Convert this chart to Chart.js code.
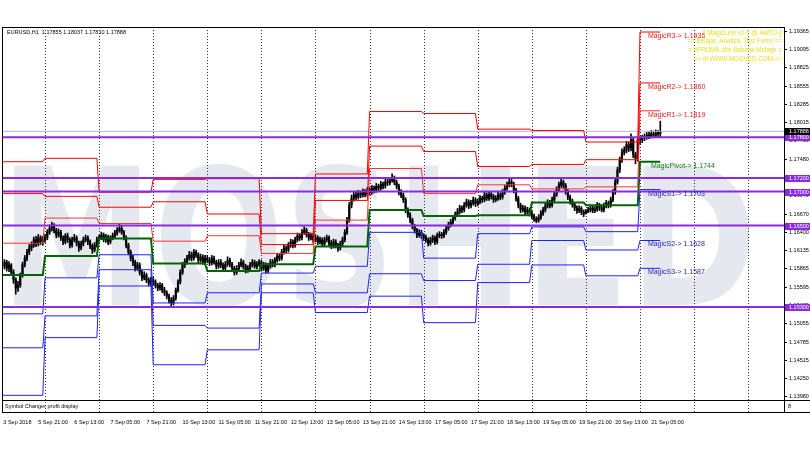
<!DOCTYPE html>
<html>
<head>
<meta charset="utf-8">
<script src="https://cdn.jsdelivr.net/npm/chart.js@4.4.0/dist/chart.umd.min.js"></script>
<style>
  html, body { margin: 0; padding: 0; background: #fff; }
</style>
</head>
<body>
<canvas id="chart" width="810" height="450"></canvas>
<script>
// EURUSD H1, bar index 0 = first visible bar
const firstOpen = 1.1590;
const closes = [
  1.1596,1.1587,1.1592,1.1581,1.1570,1.1558,1.1562,1.1577,1.1592,1.1602,1.1611,1.1617,1.1621,1.1629,1.1623,1.1632,1.1626,1.1629,
  1.1632,1.1640,1.1646,1.1649,1.1643,1.1636,1.1640,1.1632,1.1626,1.1635,1.1629,1.1621,1.1629,1.1632,1.1624,1.1617,1.1623,1.1629,1.1632,1.1626,1.1620,1.1614,1.1621,1.1629,
  1.1632,1.1636,1.1629,1.1633,1.1626,1.1632,1.1635,1.1639,1.1643,1.1646,1.1640,1.1632,1.1621,1.1611,1.1602,1.1596,1.1587,1.1592,1.1581,1.1573,1.1577,1.1570,1.1565,1.1570,
  1.1567,1.1562,1.1558,1.1562,1.1555,1.1551,1.1546,1.1540,1.1536,1.1543,1.1555,1.1567,1.1581,1.1592,1.1596,1.1602,1.1607,1.1602,1.1611,1.1607,1.1599,1.1604,1.1596,1.1602,
  1.1599,1.1595,1.1602,1.1596,1.1590,1.1596,1.1592,1.1587,1.1593,1.1599,1.1593,1.1587,1.1581,1.1587,1.1592,1.1596,1.1590,1.1584,1.1587,1.1592,1.1596,1.1590,1.1593,1.1596,
  1.1587,1.1592,1.1584,1.1590,1.1596,1.1592,1.1599,1.1605,1.1602,1.1611,1.1617,1.1614,1.1621,1.1626,1.1621,1.1629,1.1635,1.1632,1.1640,1.1643,1.1637,1.1632,1.1635,1.1629,
  1.1632,1.1626,1.1629,1.1623,1.1629,1.1632,1.1624,1.1620,1.1626,1.1621,1.1617,1.1623,1.1629,1.1640,1.1658,1.1680,1.1690,1.1695,1.1692,1.1698,1.1695,1.1699,1.1696,1.1702,
  1.1699,1.1705,1.1702,1.1708,1.1705,1.1711,1.1708,1.1714,1.1713,1.1717,1.1720,1.1714,1.1708,1.1699,1.1695,1.1688,1.1673,1.1666,1.1658,1.1649,1.1643,1.1636,1.1640,1.1635,
  1.1632,1.1629,1.1624,1.1629,1.1632,1.1626,1.1635,1.1637,1.1635,1.1640,1.1646,1.1651,1.1655,1.1661,1.1666,1.1670,1.1676,1.1673,1.1680,1.1685,1.1679,1.1683,1.1688,1.1682,
  1.1685,1.1690,1.1688,1.1695,1.1690,1.1696,1.1693,1.1688,1.1690,1.1695,1.1692,1.1699,1.1705,1.1710,1.1714,1.1711,1.1702,1.1690,1.1680,1.1673,1.1676,1.1670,1.1673,1.1668,
  1.1664,1.1660,1.1657,1.1662,1.1668,1.1673,1.1679,1.1684,1.1680,1.1688,1.1696,1.1703,1.1710,1.1714,1.1709,1.1700,1.1692,1.1686,1.1681,1.1676,1.1672,1.1675,1.1670,1.1667,
  1.1670,1.1673,1.1676,1.1672,1.1674,1.1680,1.1676,1.1673,1.1679,1.1683,1.1680,1.1688,1.1699,1.1714,1.1732,1.1747,1.1758,1.1761,1.1769,1.1764,1.1776,1.1754,1.1749,1.1777,
  1.1776,1.1779,1.1780,1.1783,1.1782,1.1785,1.1783,1.1786,1.17855,1.17888
];
const highs = [
  1.1600,1.1599,1.1597,1.1594,1.1585,1.1573,1.1568,1.1580,1.1596,1.1606,1.1615,1.1622,1.1626,1.1633,1.1634,1.1637,1.1635,1.1634,
  1.1637,1.1644,1.1651,1.1655,1.1653,1.1646,1.1645,1.1643,1.1635,1.1638,1.1639,1.1632,1.1633,1.1637,1.1635,1.1627,1.1627,1.1633,1.1636,1.1635,1.1629,1.1623,1.1625,1.1633,
  1.1636,1.1640,1.1639,1.1637,1.1636,1.1635,1.1639,1.1643,1.1647,1.1652,1.1649,1.1643,1.1635,1.1624,1.1614,1.1606,1.1599,1.1596,1.1595,1.1584,1.1582,1.1580,1.1573,1.1574,
  1.1574,1.1570,1.1565,1.1566,1.1565,1.1559,1.1554,1.1549,1.1544,1.1547,1.1558,1.1570,1.1585,1.1596,1.1601,1.1606,1.1612,1.1611,1.1615,1.1614,1.1610,1.1608,1.1607,1.1606,
  1.1606,1.1603,1.1606,1.1605,1.1599,1.1600,1.1600,1.1595,1.1597,1.1604,1.1602,1.1596,1.1590,1.1591,1.1596,1.1601,1.1599,1.1593,1.1591,1.1596,1.1600,1.1599,1.1597,1.1600,
  1.1599,1.1596,1.1595,1.1594,1.1600,1.1600,1.1603,1.1609,1.1608,1.1615,1.1621,1.1620,1.1625,1.1630,1.1629,1.1633,1.1639,1.1638,1.1644,1.1648,1.1646,1.1640,1.1639,1.1638,
  1.1636,1.1635,1.1633,1.1632,1.1633,1.1636,1.1635,1.1628,1.1630,1.1629,1.1624,1.1627,1.1633,1.1644,1.1662,1.1684,1.1695,1.1700,1.1699,1.1702,1.1701,1.1704,1.1703,1.1706,
  1.1706,1.1709,1.1708,1.1712,1.1711,1.1715,1.1714,1.1718,1.1718,1.1721,1.1726,1.1723,1.1717,1.1711,1.1703,1.1698,1.1691,1.1676,1.1669,1.1661,1.1652,1.1646,1.1644,1.1643,
  1.1638,1.1636,1.1632,1.1633,1.1636,1.1635,1.1639,1.1641,1.1640,1.1644,1.1650,1.1655,1.1659,1.1665,1.1670,1.1675,1.1680,1.1679,1.1684,1.1689,1.1688,1.1687,1.1692,1.1691,
  1.1689,1.1694,1.1693,1.1699,1.1698,1.1700,1.1699,1.1696,1.1694,1.1699,1.1698,1.1703,1.1709,1.1714,1.1720,1.1718,1.1714,1.1705,1.1693,1.1683,1.1680,1.1679,1.1677,1.1676,
  1.1672,1.1667,1.1663,1.1666,1.1672,1.1677,1.1683,1.1688,1.1687,1.1692,1.1700,1.1707,1.1714,1.1720,1.1717,1.1712,1.1703,1.1695,1.1689,1.1684,1.1679,1.1679,1.1678,1.1673,
  1.1674,1.1677,1.1680,1.1679,1.1678,1.1684,1.1683,1.1680,1.1683,1.1687,1.1686,1.1692,1.1703,1.1718,1.1736,1.1751,1.1763,1.1766,1.1774,1.1773,1.1785,1.1779,1.1758,1.1780,
  1.1781,1.1783,1.1785,1.1787,1.1788,1.1790,1.1789,1.1791,1.1790,1.18037
];
const lows = [
  1.1586,1.1583,1.1582,1.1577,1.1565,1.1549,1.1553,1.1559,1.1574,1.1589,1.1598,1.1607,1.1613,1.1618,1.1619,1.1620,1.1622,1.1621,
  1.1625,1.1629,1.1637,1.1642,1.1639,1.1632,1.1633,1.1628,1.1622,1.1623,1.1625,1.1617,1.1618,1.1626,1.1620,1.1612,1.1614,1.1620,1.1626,1.1622,1.1616,1.1609,1.1611,1.1618,
  1.1626,1.1629,1.1626,1.1625,1.1622,1.1623,1.1629,1.1632,1.1636,1.1640,1.1637,1.1629,1.1617,1.1607,1.1598,1.1591,1.1583,1.1584,1.1577,1.1569,1.1570,1.1566,1.1561,1.1562,
  1.1563,1.1558,1.1554,1.1555,1.1551,1.1547,1.1542,1.1536,1.1531,1.1533,1.1540,1.1552,1.1564,1.1578,1.1588,1.1593,1.1599,1.1598,1.1599,1.1603,1.1595,1.1596,1.1593,1.1592,
  1.1595,1.1591,1.1592,1.1593,1.1586,1.1587,1.1588,1.1583,1.1584,1.1590,1.1589,1.1584,1.1577,1.1578,1.1584,1.1589,1.1586,1.1580,1.1581,1.1584,1.1589,1.1587,1.1586,1.1590,
  1.1583,1.1584,1.1580,1.1581,1.1587,1.1589,1.1589,1.1596,1.1598,1.1599,1.1608,1.1610,1.1611,1.1618,1.1617,1.1618,1.1626,1.1628,1.1629,1.1637,1.1633,1.1628,1.1629,1.1625,
  1.1626,1.1622,1.1623,1.1619,1.1620,1.1626,1.1620,1.1616,1.1617,1.1617,1.1612,1.1614,1.1620,1.1626,1.1637,1.1655,1.1676,1.1686,1.1688,1.1689,1.1691,1.1692,1.1692,1.1693,
  1.1695,1.1696,1.1698,1.1699,1.1701,1.1702,1.1704,1.1705,1.1709,1.1710,1.1714,1.1710,1.1704,1.1695,1.1691,1.1684,1.1669,1.1662,1.1654,1.1645,1.1639,1.1632,1.1633,1.1631,
  1.1628,1.1625,1.1620,1.1621,1.1625,1.1622,1.1623,1.1632,1.1631,1.1632,1.1637,1.1643,1.1648,1.1652,1.1658,1.1663,1.1667,1.1669,1.1670,1.1677,1.1675,1.1676,1.1680,1.1678,
  1.1679,1.1682,1.1684,1.1685,1.1687,1.1687,1.1689,1.1684,1.1685,1.1687,1.1688,1.1689,1.1696,1.1702,1.1707,1.1707,1.1698,1.1686,1.1676,1.1669,1.1670,1.1666,1.1667,1.1664,
  1.1660,1.1656,1.1654,1.1655,1.1659,1.1665,1.1670,1.1676,1.1676,1.1677,1.1685,1.1693,1.1700,1.1706,1.1705,1.1696,1.1688,1.1682,1.1677,1.1672,1.1668,1.1669,1.1666,1.1663,
  1.1669,1.1669,1.1670,1.1669,1.1669,1.1671,1.1672,1.1670,1.1670,1.1676,1.1676,1.1677,1.1685,1.1696,1.1711,1.1728,1.1743,1.1754,1.1757,1.1759,1.1760,1.1750,1.1741,1.1745,
  1.1770,1.1772,1.1775,1.1777,1.1778,1.1779,1.1779,1.1780,1.1781,1.1781
];
const opens = closes.map((c, i) => (i === 0 ? firstOpen : closes[i - 1]));

// daily pivot levels, one value per day (5 Sep .. 21 Sep)
const dayStartBars = [-2, 18, 42, 66, 90, 114, 138, 162, 186, 210, 234, 258, 282];
const R3 = [1.1744, 1.1749, 1.1699, 1.1718, 1.1719, 1.1638, 1.1726, 1.1818, 1.1815, 1.1792, 1.1790, 1.1773, 1.1935];
const R2 = [1.1697, 1.1693, 1.1677, 1.1685, 1.1667, 1.1622, 1.1687, 1.1767, 1.1759, 1.1737, 1.1740, 1.1747, 1.1860];
const R1 = [1.1624, 1.1661, 1.1653, 1.1627, 1.1635, 1.1609, 1.1658, 1.1734, 1.1697, 1.1710, 1.1704, 1.1707, 1.1819];
const PP = [1.1577, 1.1605, 1.1631, 1.1594, 1.1583, 1.1593, 1.1619, 1.1673, 1.1664, 1.1665, 1.1684, 1.1680, 1.1744];
const S1 = [1.1520, 1.1573, 1.1607, 1.1536, 1.1551, 1.1580, 1.1590, 1.1640, 1.1602, 1.1638, 1.1648, 1.1641, 1.1703];
const S2 = [1.1470, 1.1517, 1.1585, 1.1503, 1.1499, 1.1564, 1.1551, 1.1579, 1.1569, 1.1593, 1.1628, 1.1614, 1.1628];
const S3 = [1.1400, 1.1485, 1.1561, 1.1445, 1.1467, 1.1551, 1.1522, 1.1546, 1.1507, 1.1566, 1.1592, 1.1576, 1.1587];

// horizontal lines drawn by hand on the chart
const purpleLevels = [1.17800, 1.17200, 1.17000, 1.16500, 1.15300];
const bidPrice = 1.17888;

const priceTickLabels = ['1.19365','1.19095','1.18825','1.18555','1.18285','1.18015','1.17750','1.17480','1.17210',
  '1.16940','1.16670','1.16400','1.16135','1.15865','1.15595','1.15325','1.15055','1.14785','1.14515','1.14250','1.13980'];
const timeLabels = ['3 Sep 2018','5 Sep 21:00','6 Sep 13:00','7 Sep 05:00','7 Sep 21:00','10 Sep 13:00','11 Sep 05:00',
  '11 Sep 21:00','12 Sep 13:00','13 Sep 05:00','13 Sep 21:00','14 Sep 13:00','17 Sep 05:00','17 Sep 21:00',
  '18 Sep 13:00','19 Sep 05:00','19 Sep 21:00','20 Sep 13:00','21 Sep 05:00'];
const timeLabelBars = [-0.5, 15, 31, 47, 63, 79, 95, 111, 127, 143, 159, 175, 191, 207, 223, 239, 255, 271, 287];
const gridBars = [18, 42, 66, 90, 114, 138, 162, 186, 210, 234, 258, 282, 306, 330];

const xMin = -1.1, xMax = 345.9;
const yMin = 1.13931, yMax = 1.19424;
const lastBar = closes.length - 1;
const FONT = '"Liberation Sans", Arial, sans-serif';

function stepPoints(levels) {
  const pts = [];
  levels.forEach((v, k) => {
    const end = k < levels.length - 1 ? dayStartBars[k + 1] - 1 : lastBar;
    pts.push({ x: dayStartBars[k], y: v }, { x: end, y: v });
  });
  return pts;
}

function levelLine(levels, color, width) {
  return {
    type: 'line', data: stepPoints(levels), borderColor: color, borderWidth: width,
    pointRadius: 0, tension: 0, fill: false
  };
}

const datasets = [];
purpleLevels.forEach(v => datasets.push({
  type: 'line', data: [{ x: xMin, y: v }, { x: xMax, y: v }],
  borderColor: '#8a2be2', borderWidth: 2, pointRadius: 0, fill: false
}));
datasets.push(levelLine(R3, '#ff0000', 1));
datasets.push(levelLine(R2, '#ff0000', 1));
datasets.push(levelLine(R1, '#ff3030', 1));
datasets.push(levelLine(PP, '#006400', 2));
datasets.push(levelLine(S1, '#2020ff', 1));
datasets.push(levelLine(S2, '#2020ff', 1));
datasets.push(levelLine(S3, '#2020ff', 1));
datasets.push({
  type: 'line', data: [{ x: xMin, y: bidPrice }, { x: xMax, y: bidPrice }],
  borderColor: '#b8b8c8', borderWidth: 1, pointRadius: 0, fill: false
});
datasets.push({
  type: 'bar', data: closes.map((c, i) => ({ x: i, y: [opens[i], c] })),
  backgroundColor: '#000', barThickness: 1.5, grouped: false, minBarLength: 1, borderWidth: 0
});
datasets.push({
  type: 'bar', data: closes.map((c, i) => ({ x: i, y: [lows[i], highs[i]] })),
  backgroundColor: '#000', barThickness: 1, grouped: false, borderWidth: 0
});

const pivotLabels = [
  ['R3', R3, '#e82020'], ['R2', R2, '#e82020'], ['R1', R1, '#e82020'],
  ['Pivot', PP, '#108010'], ['S1', S1, '#2828b0'], ['S2', S2, '#2828b0'], ['S3', S3, '#2828b0']
];
const bannerLines = ['|| MagicLine v2.0 @ AkifTJ ||', '== Belajar, Analisa, Tips Forex ==',
  '= #FRUMA dlm Bahasa Melayu =', '=> di WWW.MOSHED.COM <='];

const decor = {
  id: 'decor',
  beforeDatasetsDraw(chart) {
    const { ctx, chartArea: a, scales: { x } } = chart;
    ctx.save();
    ctx.beginPath();
    ctx.rect(a.left, a.top, a.right - a.left, a.bottom - a.top);
    ctx.clip();
    // big watermark
    ctx.font = 'bold 190px "DejaVu Sans"';
    const w = ctx.measureText('MOSHED').width;
    ctx.translate(a.left - 2, 305);
    ctx.scale(757 / w, 1);
    ctx.fillStyle = '#e6e8f0';
    ctx.textBaseline = 'alphabetic';
    ctx.fillText('MOSHED', 0, 0);
    ctx.restore();
    // day separators
    ctx.save();
    ctx.strokeStyle = '#333';
    ctx.lineWidth = 1;
    ctx.setLineDash([1, 2]);
    gridBars.forEach(b => {
      const px = Math.round(x.getPixelForValue(b)) + 0.5;
      ctx.beginPath();
      ctx.moveTo(px, a.top);
      ctx.lineTo(px, 412);
      ctx.stroke();
    });
    ctx.restore();
  },
  afterDraw(chart) {
    const { ctx, chartArea: a, scales: { x, y } } = chart;
    ctx.save();
    // frames
    ctx.strokeStyle = '#000';
    ctx.lineWidth = 1;
    ctx.strokeRect(a.left + 0.5, a.top + 0.5, a.right - a.left, a.bottom - a.top);
    ctx.strokeRect(a.left + 0.5, a.bottom + 0.5, a.right - a.left, 12);
    ctx.beginPath();
    ctx.moveTo(a.right + 0.5, a.bottom); ctx.lineTo(a.right + 0.5, a.bottom + 12.5);
    ctx.moveTo(a.right, a.bottom + 0.5); ctx.lineTo(810, a.bottom + 0.5);
    ctx.moveTo(a.right, a.bottom + 12.5); ctx.lineTo(810, a.bottom + 12.5);
    ctx.stroke();

    ctx.fillStyle = '#000';
    ctx.font = '5.5px ' + FONT;
    ctx.textBaseline = 'middle';
    ctx.textAlign = 'left';
    ctx.fillText('EURUSD,H1  1.17855 1.18037 1.17810 1.17888', 7, 32);
    ctx.fillText('Symbol Changer profit display', 5, a.bottom + 6.5);
    ctx.fillText('8', 788, a.bottom + 6.5);

    // pivot level labels for the current day
    const k = R3.length - 1;
    ctx.font = '7px ' + FONT;
    pivotLabels.forEach(([name, arr, color]) => {
      const py = y.getPixelForValue(arr[k]);
      const px = x.getPixelForValue(285.5) + (name === 'Pivot' ? 3 : 0);
      ctx.fillStyle = color;
      ctx.fillText('Magic' + name + '-> ' + arr[k].toFixed(4), px, py + 4);
    });

    // banner top right
    ctx.font = '6.3px ' + FONT;
    ctx.fillStyle = '#e8dc1c';
    ctx.textAlign = 'right';
    bannerLines.forEach((t, i) => ctx.fillText(t, 782, 33 + i * 8.7));

    // price boxes on the axis
    ctx.textAlign = 'left';
    ctx.font = '5.5px ' + FONT;
    const box = (v, bg) => {
      const py = Math.round(y.getPixelForValue(v));
      ctx.fillStyle = bg;
      ctx.fillRect(a.right + 1, py - 3, 25, 7);
      ctx.fillStyle = '#fff';
      ctx.fillText(v.toFixed(5), a.right + 5, py + 0.5);
    };
    purpleLevels.forEach(v => box(v, '#8a2be2'));
    box(bidPrice, '#000');
    ctx.restore();
  }
};

new Chart(document.getElementById('chart'), {
  type: 'bar',
  data: { datasets },
  options: {
    responsive: false,
    animation: false,
    events: [],
    layout: { padding: { top: 27, left: 2, right: 0, bottom: 0 } },
    plugins: { legend: { display: false }, tooltip: { enabled: false } },
    scales: {
      x: {
        type: 'linear', min: xMin, max: xMax, offset: false, position: 'bottom',
        afterFit: s => { s.height = 50; s.paddingLeft = 0; s.paddingRight = 0; },
        afterBuildTicks: s => { s.ticks = timeLabelBars.map(v => ({ value: v })); },
        grid: { display: false, drawTicks: false },
        border: { display: false },
        ticks: {
          autoSkip: false, maxRotation: 0, align: 'start', padding: 19, color: '#000',
          font: { family: FONT, size: 5.5 },
          callback: (v, i) => timeLabels[i]
        }
      },
      y: {
        type: 'linear', position: 'right', min: yMin, max: yMax,
        afterFit: s => { s.width = 26; s.paddingTop = 0; s.paddingBottom = 0; },
        afterBuildTicks: s => { s.ticks = priceTickLabels.map(t => ({ value: Number(t) })); },
        grid: { drawOnChartArea: false, drawTicks: true, tickLength: 3, color: '#000' },
        border: { display: true, color: '#000' },
        ticks: {
          autoSkip: false, padding: 2, color: '#000',
          font: { family: FONT, size: 5.5 },
          callback: (v, i) => priceTickLabels[i]
        }
      }
    }
  },
  plugins: [decor]
});
</script>
</body>
</html>
